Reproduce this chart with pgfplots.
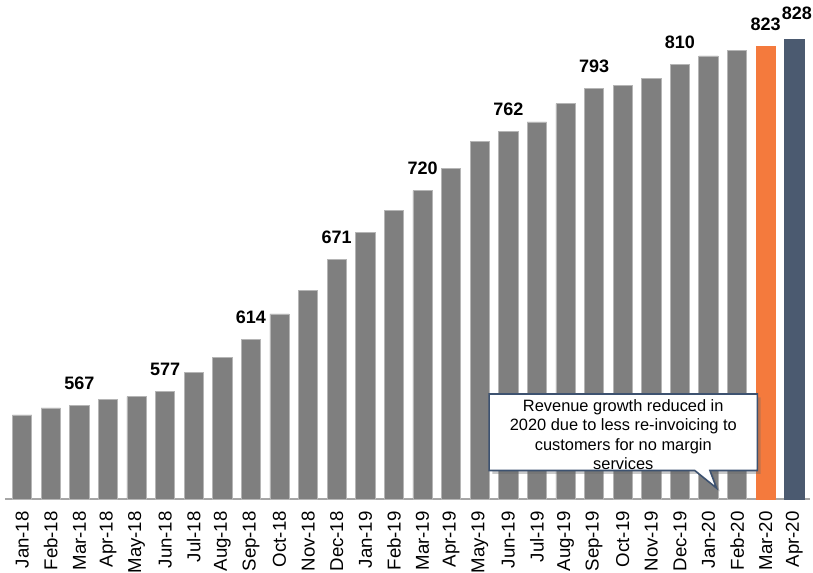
\documentclass[border=0pt]{standalone}
\usepackage{pgfplots}
\pgfplotsset{compat=1.18}
\usepackage{fontspec}
\setmainfont{Liberation Sans}
\usetikzlibrary{shadows}
\definecolor{bargray}{HTML}{7F7F7F}
\definecolor{baredge}{HTML}{B5B5B5}
\definecolor{barorange}{HTML}{F47A3D}
\definecolor{barslate}{HTML}{4B5A70}
\definecolor{calloutborder}{HTML}{3D5270}
\begin{document}
\begin{tikzpicture}
\begin{axis}[
  scale only axis, width=603.75pt, height=357.5pt,
  xmin=-0.6, xmax=27.55, ymin=500, ymax=840,
  axis x line*=bottom, axis y line=none,
  x axis line style={-, draw=black!35, line width=1.7pt},
  xtick={0,...,27},
  xticklabels={Jan-18,Feb-18,Mar-18,Apr-18,May-18,Jun-18,Jul-18,Aug-18,Sep-18,Oct-18,Nov-18,Dec-18,Jan-19,Feb-19,Mar-19,Apr-19,May-19,Jun-19,Jul-19,Aug-19,Sep-19,Oct-19,Nov-19,Dec-19,Jan-20,Feb-20,Mar-20,Apr-20},
  xtick style={draw=none}, major tick length=0pt,
  xticklabel style={rotate=90, anchor=east, font=\fontsize{14}{16}\selectfont, inner sep=0pt, xshift=-9pt},
  ytick=\empty,
  ybar, bar width=14.5pt, bar shift=0pt,
  /pgf/number format/assume math mode=true,
  nodes near coords style={font=\bfseries\fontsize{13.5}{16}\selectfont, anchor=south, inner sep=0pt, yshift=11.5pt, text=black},
  clip=false,
]
\addplot[fill=bargray, draw=baredge, line width=0.5pt] coordinates {
 (0,560) (1,565) (2,567) (3,571) (4,573) (5,577) (6,590) (7,601) (8,614) (9,632)
 (10,649) (11,671) (12,690) (13,706) (14,720) (15,736) (16,755) (17,762) (18,769)
 (19,782) (20,793) (21,795) (22,800) (23,810) (24,816) (25,820)};
\addplot[fill=barorange, draw=barorange, line width=0.5pt, nodes near coords] coordinates {(26,823)};
\addplot[fill=barslate, draw=barslate, line width=0.5pt, nodes near coords,
  nodes near coords style={yshift=3pt, xshift=2pt}] coordinates {(27,828)};
\addplot[draw=none, fill=none, nodes near coords] coordinates {
 (2,567) (5,577) (8,614) (11,671) (14,720) (17,762) (20,793) (23,810)};
\draw[calloutborder, line width=1.2pt, fill=white,
  drop shadow={shadow xshift=2.5pt, shadow yshift=-2.5pt, opacity=0.35, fill=black!60}]
  (axis cs:16.33,574.9) -- (axis cs:25.71,574.9) -- (axis cs:25.71,520.3)
  -- (axis cs:24.05,520.3) -- (axis cs:24.28,507.8) -- (axis cs:23.52,520.3)
  -- (axis cs:16.33,520.3) -- cycle;
\node[align=center, font=\fontsize{12.3}{14.6}\selectfont] at (axis cs:21.02,546)
  {Revenue growth reduced in\\2020 due to less re-invoicing to\\customers for no margin\\services};
\coordinate (BBL) at (rel axis cs:-0.00621,-0.15524);
\coordinate (BTR) at (rel axis cs:1.00373,1.04678);
\end{axis}
\pgfresetboundingbox
\useasboundingbox (BBL) rectangle (BTR);
\end{tikzpicture}
\end{document}
